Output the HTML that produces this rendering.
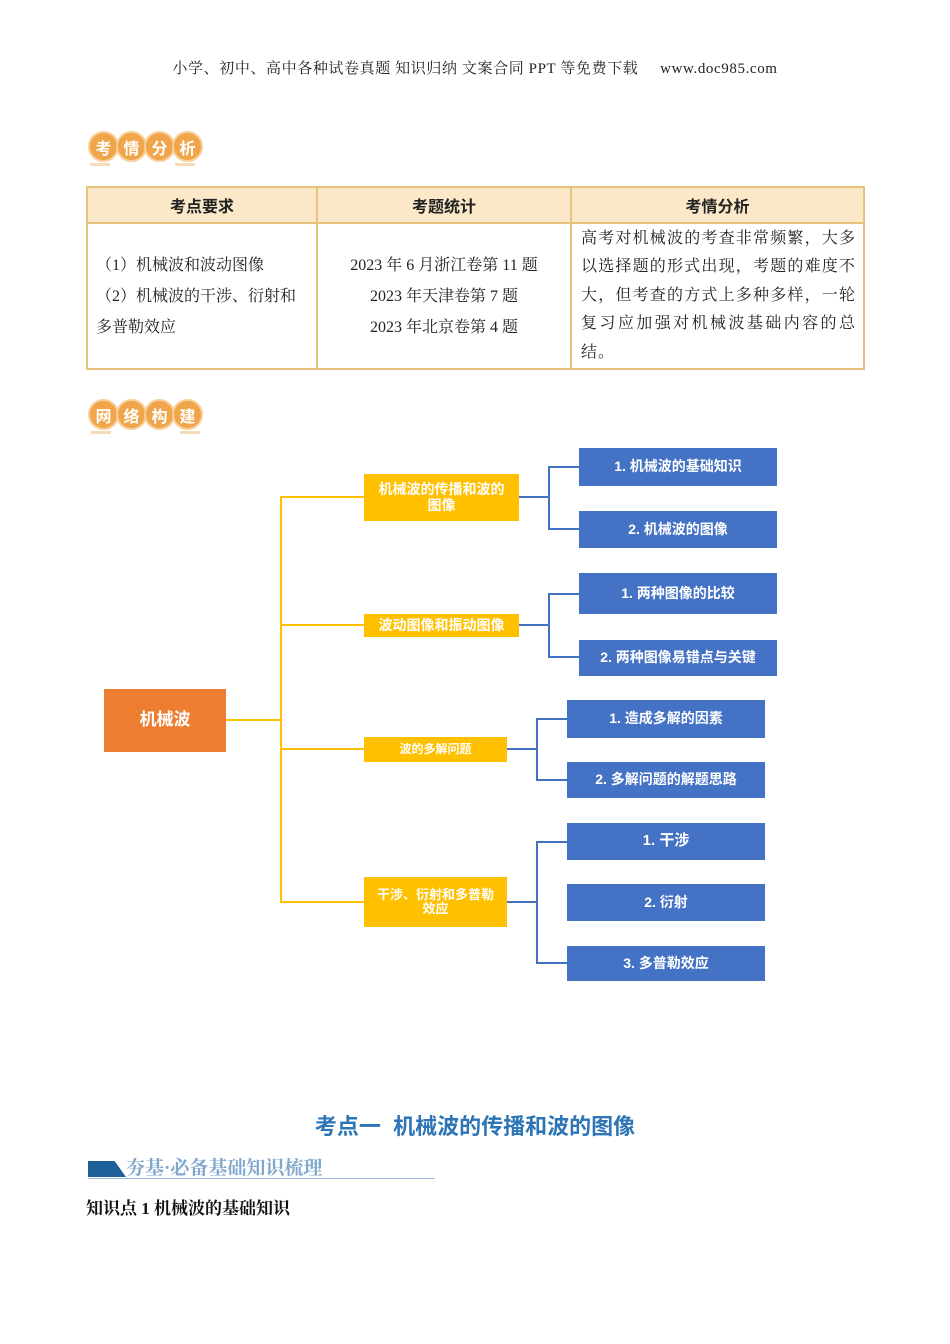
<!DOCTYPE html>
<html><head><meta charset="utf-8"><style>
*{margin:0;padding:0;box-sizing:border-box}
body{width:950px;height:1344px;background:#fff;position:relative;font-family:"Liberation Serif","Noto Serif CJK SC",serif;overflow:hidden}
.a{position:absolute}
.sans{font-family:"Liberation Sans","Noto Sans CJK SC",sans-serif}
.bx{position:absolute;display:flex;align-items:center;justify-content:center;text-align:center;color:#fff;font-family:"Liberation Sans","Noto Sans CJK SC",sans-serif;font-weight:bold;line-height:1.1}
.y{background:#ffc000}
.b{background:#4472c4;font-size:14px}
.hl{position:absolute;height:2px;background:#ffc000}
.vl{position:absolute;width:2px;background:#ffc000}
.bh{position:absolute;height:2px;background:#4472c4}
.bv{position:absolute;width:2px;background:#4472c4}
.badge{position:absolute;display:flex}
.badge span{width:31px;height:31px;margin-right:-3px;border-radius:50%;background:#f0a54a;border:2px solid #f7cf97;color:#fff;font-weight:bold;font-size:16px;display:flex;align-items:center;justify-content:center;font-family:"Liberation Sans","Noto Sans CJK SC",sans-serif}
td{border:2px solid #e6c27a;vertical-align:middle;font-size:16px;color:#222}
</style></head><body>
<div class="a" style="left:0;width:950px;top:57px;text-align:center;font-size:15px;color:#222;letter-spacing:0.6px">小学、初中、高中各种试卷真题 知识归纳 文案合同 PPT 等免费下载 &nbsp;&nbsp;&nbsp;&nbsp;www.doc985.com</div>

<div class="badge" style="left:88px;top:131px"><span>考</span><span>情</span><span>分</span><span>析</span></div>
<div class="a" style="left:90px;top:163px;width:20px;height:3px;background:#f5dcb8"></div>
<div class="a" style="left:175px;top:163px;width:20px;height:3px;background:#f5dcb8"></div>

<table class="a" style="left:86px;top:186px;width:779px;height:182px;border-collapse:collapse">
<tr style="height:36px;background:#fbe8c8"><td class="sans" style="width:230px;text-align:center;font-weight:bold">考点要求</td><td class="sans" style="width:254px;text-align:center;font-weight:bold">考题统计</td><td class="sans" style="text-align:center;font-weight:bold">考情分析</td></tr>
<tr style="height:146px"><td style="padding:0 8px;line-height:31px">（1）机械波和波动图像<br>（2）机械波的干涉、衍射和多普勒效应</td>
<td style="text-align:center;line-height:31px">2023 年 6 月浙江卷第 11 题<br>2023 年天津卷第 7 题<br>2023 年北京卷第 4 题</td>
<td style="padding:0 7px 0 9px;line-height:28.5px;text-align:justify;letter-spacing:1px">高考对机械波的考查非常频繁，大多以选择题的形式出现，考题的难度不大，但考查的方式上多种多样，一轮复习应加强对机械波基础内容的总结。</td></tr>
</table>

<div class="badge" style="left:88px;top:399px"><span>网</span><span>络</span><span>构</span><span>建</span></div>
<div class="a" style="left:91px;top:431px;width:20px;height:3px;background:#f5dcb8"></div>
<div class="a" style="left:180px;top:431px;width:20px;height:3px;background:#f5dcb8"></div>

<div class="bx" style="left:104px;top:689px;width:122px;height:63px;background:#ed7d31;font-size:17px">机械波</div>
<div class="hl" style="left:226px;top:719px;width:56px"></div>
<div class="vl" style="left:280px;top:496px;height:407px"></div>
<div class="hl" style="left:280px;top:496px;width:84px"></div>
<div class="hl" style="left:280px;top:624px;width:84px"></div>
<div class="hl" style="left:280px;top:748px;width:84px"></div>
<div class="hl" style="left:280px;top:901px;width:84px"></div>

<div class="bx y" style="left:364px;top:474px;width:155px;height:47px;font-size:14px">机械波的传播和波的<br>图像</div>
<div class="bx y" style="left:364px;top:614px;width:155px;height:23px;font-size:14px">波动图像和振动图像</div>
<div class="bx y" style="left:364px;top:737px;width:143px;height:25px;font-size:12px">波的多解问题</div>
<div class="bx y" style="left:364px;top:877px;width:143px;height:50px;font-size:13px">干涉、衍射和多普勒<br>效应</div>

<div class="bh" style="left:519px;top:496px;width:31px"></div>
<div class="bv" style="left:548px;top:466px;height:64px"></div>
<div class="bh" style="left:548px;top:466px;width:31px"></div>
<div class="bh" style="left:548px;top:528px;width:31px"></div>
<div class="bx b" style="left:579px;top:448px;width:198px;height:38px">1. 机械波的基础知识</div>
<div class="bx b" style="left:579px;top:511px;width:198px;height:37px">2. 机械波的图像</div>

<div class="bh" style="left:519px;top:624px;width:31px"></div>
<div class="bv" style="left:548px;top:593px;height:65px"></div>
<div class="bh" style="left:548px;top:593px;width:31px"></div>
<div class="bh" style="left:548px;top:656px;width:31px"></div>
<div class="bx b" style="left:579px;top:573px;width:198px;height:41px">1. 两种图像的比较</div>
<div class="bx b" style="left:579px;top:640px;width:198px;height:36px">2. 两种图像易错点与关键</div>

<div class="bh" style="left:507px;top:748px;width:31px"></div>
<div class="bv" style="left:536px;top:718px;height:63px"></div>
<div class="bh" style="left:536px;top:718px;width:31px"></div>
<div class="bh" style="left:536px;top:779px;width:31px"></div>
<div class="bx b" style="left:567px;top:700px;width:198px;height:38px">1. 造成多解的因素</div>
<div class="bx b" style="left:567px;top:762px;width:198px;height:36px">2. 多解问题的解题思路</div>

<div class="bh" style="left:507px;top:901px;width:31px"></div>
<div class="bv" style="left:536px;top:841px;height:123px"></div>
<div class="bh" style="left:536px;top:841px;width:31px"></div>
<div class="bh" style="left:536px;top:962px;width:31px"></div>
<div class="bx b" style="left:567px;top:823px;width:198px;height:37px;font-size:15px">1. 干涉</div>
<div class="bx b" style="left:567px;top:884px;width:198px;height:37px">2. 衍射</div>
<div class="bx b" style="left:567px;top:946px;width:198px;height:35px">3. 多普勒效应</div>

<div class="a sans" style="left:0;width:950px;top:1109px;text-align:center;font-size:22px;font-weight:bold;color:#2e75b6">考点一&nbsp; 机械波的传播和波的图像</div>
<div class="a" style="left:88px;top:1161px;width:38px;height:16px;background:#1f5f99;clip-path:polygon(0 100%,0 0,70% 0,100% 100%)"></div>
<div class="a" style="left:126px;top:1153px;font-size:19px;font-weight:bold;color:#7fa6cc">夯基·必备基础知识梳理</div>
<div class="a" style="left:88px;top:1178px;width:347px;height:1px;background:#9dbbd8"></div>
<div class="a" style="left:86px;top:1194px;font-size:17px;font-weight:bold;color:#111">知识点 1 机械波的基础知识</div>
</body></html>
